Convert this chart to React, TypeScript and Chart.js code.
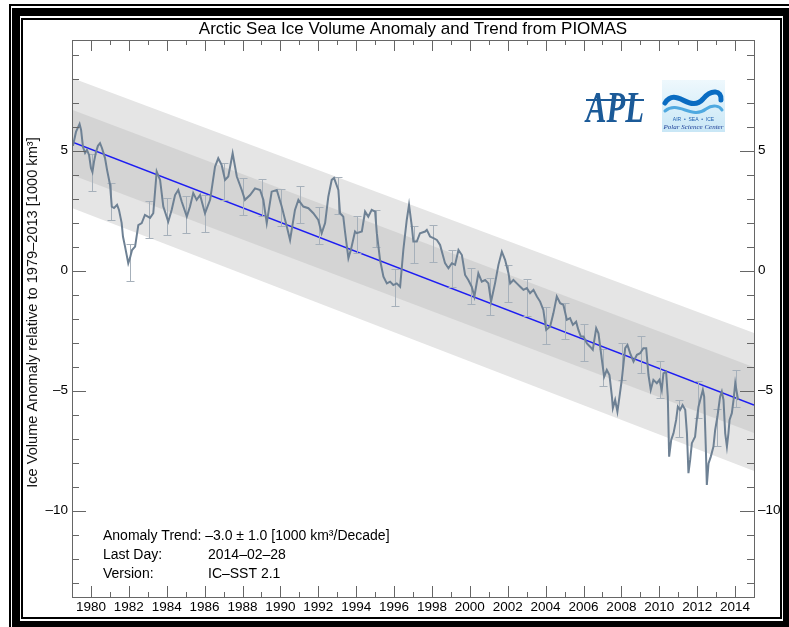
import React, { useEffect, useRef } from 'react';
import { Chart, registerables } from 'chart.js';

Chart.register(...registerables);

// ---------------- data ----------------
const titleText = 'Arctic Sea Ice Volume Anomaly and Trend from PIOMAS';
const yAxisTitle = 'Ice Volume Anomaly relative to 1979\u20132013 [1000 km\u00B3]';
const infoLabels = ['Anomaly Trend: \u20133.0 \u00B1 1.0 [1000 km\u00B3/Decade]', 'Last Day:', 'Version:'];
const infoValues = ['', '2014\u201302\u201328', 'IC\u2013SST 2.1'];

const xMin = 1979;
const xMax = 2015;
const yMin = -13.6;
const yMax = 9.61;

// anomaly series (decimal year, 1000 km^3)
const years1979 = [1979.05, 1979.21, 1979.40, 1979.48, 1979.58, 1979.69, 1979.79, 1979.90, 1980.00, 1980.08,
  1980.16, 1980.27, 1980.37, 1980.48, 1980.58, 1980.74, 1980.85, 1981.01, 1981.10, 1981.22,
  1981.38, 1981.48, 1981.62, 1981.69, 1981.80, 1981.97, 1982.06, 1982.17, 1982.33, 1982.50,
  1982.68, 1982.85, 1983.12, 1983.29, 1983.47, 1983.65, 1983.82, 1984.08, 1984.26, 1984.44,
  1984.61, 1984.79, 1985.06, 1985.23, 1985.40, 1985.58, 1985.76, 1986.02, 1986.29, 1986.55,
  1986.72, 1986.90, 1987.08, 1987.25, 1987.48, 1987.70, 1987.96];
const values1979 = [5.20, 5.78, 6.11, 5.86, 5.15, 4.90, 5.03, 4.82, 4.28, 4.11,
  4.53, 4.95, 5.20, 5.31, 5.11, 4.70, 4.20, 3.57, 2.67, 2.61,
  2.74, 2.53, 1.99, 1.42, 1.00, 0.31, 0.53, 0.86, 1.00, 1.90,
  1.98, 2.32, 2.20, 2.39, 4.13, 3.78, 2.67, 2.04, 2.53, 3.15,
  3.36, 2.88, 2.25, 2.67, 3.23, 2.95, 3.15, 2.39, 2.95, 4.33,
  4.68, 4.40, 3.78, 3.92, 4.89, 3.92, 3.36];

const years1988 = [1988.13, 1988.40, 1988.66,
  1988.93, 1989.10, 1989.28, 1989.54, 1989.81, 1990.07, 1990.34, 1990.51, 1990.77, 1990.95,
  1991.21, 1991.48, 1991.74, 1992.00, 1992.18, 1992.36, 1992.53, 1992.71, 1992.83, 1993.06,
  1993.15, 1993.32, 1993.41, 1993.59, 1993.72, 1993.94, 1994.03, 1994.30, 1994.47, 1994.64,
  1994.82, 1995.00, 1995.09, 1995.26, 1995.44, 1995.62, 1995.79, 1995.96, 1996.14, 1996.32,
  1996.49, 1996.67, 1996.79, 1996.94];
const values1988 = [2.95, 3.15, 3.43,
  3.36, 2.95, 1.98, 3.29, 3.36, 2.67, 1.83, 1.28, 2.53, 2.95,
  2.67, 2.60, 2.39, 2.11, 1.56, 1.98, 3.08, 3.78, 3.86, 3.36,
  2.39, 2.25, 1.63, 0.52, 0.86, 1.63, 1.56, 1.63, 2.46, 2.25,
  2.53, 2.46, 1.56, 0.45, -0.25, -0.53, -0.46, -0.60, -0.53, -0.67,
  0.86, 2.11, 2.74, 1.83];

const years1997 = [1997.02, 1997.20, 1997.37, 1997.64, 1997.73, 1997.90,
  1998.08, 1998.26, 1998.43, 1998.69, 1998.87, 1999.05, 1999.22, 1999.40, 1999.58, 1999.75,
  1999.92, 2000.10, 2000.24, 2000.45, 2000.63, 2000.81, 2000.98, 2001.12, 2001.33, 2001.51,
  2001.69, 2001.86, 2002.04, 2002.13, 2002.30, 2002.48, 2002.66, 2002.83, 2003.01, 2003.18,
  2003.36, 2003.54, 2003.71, 2003.88, 2004.03, 2004.24, 2004.41, 2004.59, 2004.77, 2004.94,
  2005.12, 2005.29, 2005.44, 2005.61, 2005.73, 2005.86];
const values1997 = [1.21, 1.21, 1.56, 1.63, 1.70, 1.42,
  1.35, 1.28, 1.07, 0.31, 0.10, 0.31, 0.24, 0.86, 0.65, -0.18,
  -0.39, -0.67, -1.08, -0.11, -0.46, -0.39, -0.53, -1.29, -0.53, 0.24,
  0.79, 0.45, -0.11, -0.53, -0.39, -0.53, -0.67, -0.80, -0.73, -0.94,
  -0.80, -1.08, -1.29, -1.64, -2.47, -2.33, -1.78, -1.08, -1.36, -1.43,
  -2.05, -1.98, -2.26, -2.13, -2.47, -2.75];

const years2006 = [2006.00, 2006.18, 2006.35, 2006.49, 2006.67, 2006.79, 2006.97, 2007.09, 2007.23, 2007.37,
  2007.50, 2007.55, 2007.67, 2007.79, 2007.90, 2008.02, 2008.20, 2008.32, 2008.46, 2008.64,
  2008.82, 2008.99, 2009.16, 2009.31, 2009.43, 2009.55, 2009.69, 2009.87, 2010.01, 2010.13,
  2010.22, 2010.36, 2010.45, 2010.52, 2010.63, 2010.75, 2010.89, 2010.98, 2011.10, 2011.23,
  2011.37, 2011.46, 2011.54, 2011.63, 2011.72, 2011.89, 2011.98, 2012.07, 2012.16, 2012.30,
  2012.37, 2012.46, 2012.51, 2012.60, 2012.72, 2012.86, 2012.95, 2013.07, 2013.21, 2013.30,
  2013.39, 2013.48, 2013.57, 2013.65, 2013.71, 2013.83, 2013.92, 2014.01, 2014.10, 2014.16];
const values2006 = [-2.75, -3.03, -3.17, -3.30, -2.40, -2.61, -3.72, -4.42, -4.14, -4.35,
  -5.25, -5.73, -5.39, -5.88, -5.25, -4.55, -3.23, -3.10, -3.44, -3.79,
  -3.51, -3.44, -3.23, -3.23, -4.35, -4.97, -4.55, -4.69, -4.55, -4.97,
  -4.28, -4.21, -5.25, -7.75, -7.05, -6.78, -6.22, -5.67, -5.80, -5.60,
  -5.80, -6.78, -8.44, -7.89, -7.19, -6.92, -6.22, -5.67, -5.39, -4.97,
  -5.25, -7.47, -8.93, -8.03, -7.75, -7.33, -6.64, -6.08, -5.25, -5.04,
  -5.39, -6.78, -7.33, -6.78, -6.22, -5.94, -5.39, -4.69, -5.11, -5.39];

// yearly uncertainty bars
const barYears = [1980.04, 1981.04, 1982.04, 1983.04, 1984.04, 1985.04, 1986.04, 1987.04, 1988.04, 1989.04,
  1990.04, 1991.04, 1992.04, 1993.04, 1994.04, 1995.04, 1996.04, 1997.04, 1998.04, 1999.04,
  2000.04, 2001.04, 2002.04, 2003.04, 2004.04, 2005.04, 2006.04, 2007.04, 2008.04, 2009.04,
  2010.04, 2011.04, 2012.04, 2013.04, 2014.04];
const barMid = [4.07, 2.88, 0.33, 2.14, 2.25, 2.32, 2.40, 3.70, 3.08, 3.03,
  2.63, 2.74, 1.90, 3.15, 1.49, 1.77, -0.72, 1.07, 1.14, 0.07,
  -0.64, -1.08, -0.53, -1.10, -2.30, -2.10, -3.01, -4.05, -3.80, -3.51,
  -4.55, -6.18, -5.39, -6.55, -4.93];
const barHalf = 0.77;

// trend and bands (values at the two ends of the axis)
const bandYears = [1979, 2015];
const trendVals = [5.36, -5.6];
const innerUpper = [6.70, -4.03];
const innerLower = [3.98, -6.77];
const outerUpper = [8.03, -2.6];
const outerLower = [2.61, -8.35];

// ---------------- helpers ----------------
const FONT = '"Liberation Sans", Arial, Helvetica, sans-serif';
const ANOM_INDEX = 5;

const pts = (xs: number[], ys: number[]) => xs.map((x, i) => ({ x, y: ys[i] }));
const fmtY = (v: number) => String(v).replace('-', '\u2013');

function drawLogos(ctx: CanvasRenderingContext2D) {
  // APL logo (approximation)
  ctx.save();
  ctx.fillStyle = '#1b5a98';
  ctx.font = 'italic bold 44px "Liberation Serif", serif';
  ctx.textBaseline = 'alphabetic';
  ctx.fillText('APL', 586, 122, 58);
  ctx.fillRect(586, 99, 58, 2);
  ctx.restore();

  // Polar Science Center logo (approximation)
  ctx.save();
  const g = ctx.createLinearGradient(0, 80, 0, 132);
  g.addColorStop(0, '#eef8fd');
  g.addColorStop(1, '#c9e7f6');
  ctx.fillStyle = g;
  ctx.fillRect(662, 80, 63, 52);
  ctx.lineCap = 'round';
  ctx.strokeStyle = '#0a6cc2';
  ctx.lineWidth = 5;
  ctx.beginPath();
  ctx.moveTo(665, 103);
  ctx.bezierCurveTo(676, 86, 690, 114, 703, 99);
  ctx.bezierCurveTo(711, 89, 722, 90, 721, 100);
  ctx.stroke();
  ctx.strokeStyle = '#4fa9e0';
  ctx.lineWidth = 3;
  ctx.beginPath();
  ctx.moveTo(665, 111);
  ctx.bezierCurveTo(678, 100, 692, 120, 706, 109);
  ctx.bezierCurveTo(713, 104, 720, 106, 722, 110);
  ctx.stroke();
  ctx.fillStyle = '#1f5fb0';
  ctx.textAlign = 'center';
  ctx.font = `5px ${FONT}`;
  ctx.fillText('AIR  \u2022  SEA  \u2022  ICE', 693.5, 121);
  ctx.fillStyle = '#1b3d96';
  ctx.font = 'italic 7px "Liberation Serif", serif';
  ctx.fillText('Polar Science Center', 693.5, 129, 61);
  ctx.restore();
}

function drawFrame(ctx: CanvasRenderingContext2D) {
  ctx.save();
  ctx.fillStyle = '#000';
  // outer thin line
  ctx.fillRect(9, 4, 2, 623);
  ctx.fillRect(9, 4, 780, 2);
  // thick band
  ctx.fillRect(12, 8, 777, 8);
  ctx.fillRect(12, 8, 8, 619);
  ctx.fillRect(783, 8, 6, 619);
  ctx.fillRect(12, 621, 777, 6);
  // inner thin line
  ctx.fillRect(21, 18, 761, 2);
  ctx.fillRect(21, 18, 2, 601);
  ctx.fillRect(780, 18, 2, 601);
  ctx.fillRect(21, 617, 761, 2);
  ctx.restore();
}

const chromePlugin = {
  id: 'chrome',
  beforeDraw(chart: any) {
    const ctx = chart.ctx as CanvasRenderingContext2D;
    ctx.save();
    ctx.fillStyle = '#ffffff';
    ctx.fillRect(0, 0, chart.width, chart.height);
    ctx.restore();
  },
  beforeDatasetDraw(chart: any, args: any) {
    if (args.index !== ANOM_INDEX) return;
    const ctx = chart.ctx as CanvasRenderingContext2D;
    const xs = chart.scales.x;
    const ys = chart.scales.y;
    const a = chart.chartArea;
    ctx.save();
    ctx.beginPath();
    ctx.rect(a.left, a.top, a.right - a.left, a.bottom - a.top);
    ctx.clip();
    ctx.strokeStyle = '#a6b0ba';
    ctx.lineWidth = 1;
    ctx.beginPath();
    barYears.forEach((yr, i) => {
      const px = Math.round(xs.getPixelForValue(yr)) + 0.5;
      const hi = Math.round(ys.getPixelForValue(barMid[i] + barHalf)) + 0.5;
      const lo = Math.round(ys.getPixelForValue(barMid[i] - barHalf)) + 0.5;
      ctx.moveTo(px, hi); ctx.lineTo(px, lo);
      ctx.moveTo(px - 4, hi); ctx.lineTo(px + 4, hi);
      ctx.moveTo(px - 4, lo); ctx.lineTo(px + 4, lo);
    });
    ctx.stroke();
    ctx.restore();
  },
  afterDraw(chart: any) {
    const ctx = chart.ctx as CanvasRenderingContext2D;
    const a = chart.chartArea;
    const xs = chart.scales.x;
    const ys = chart.scales.y;
    ctx.save();
    // axis box
    ctx.strokeStyle = '#666666';
    ctx.lineWidth = 1;
    ctx.strokeRect(a.left + 0.5, a.top + 0.5, a.right - a.left, a.bottom - a.top);
    ctx.beginPath();
    xs.ticks.forEach((t: any) => {
      const px = Math.round(xs.getPixelForValue(t.value)) + 0.5;
      const len = t.value % 2 === 0 ? 11 : 5;
      ctx.moveTo(px, a.bottom); ctx.lineTo(px, a.bottom - len);
      ctx.moveTo(px, a.top); ctx.lineTo(px, a.top + len);
    });
    ys.ticks.forEach((t: any) => {
      const py = Math.round(ys.getPixelForValue(t.value)) + 0.5;
      const len = t.value % 5 === 0 ? 14 : 7;
      ctx.moveTo(a.left, py); ctx.lineTo(a.left + len, py);
      ctx.moveTo(a.right, py); ctx.lineTo(a.right - len, py);
    });
    ctx.stroke();

    // title
    ctx.fillStyle = '#000';
    ctx.font = `17px ${FONT}`;
    ctx.textAlign = 'center';
    ctx.textBaseline = 'alphabetic';
    ctx.fillText(titleText, (a.left + a.right) / 2, 34);

    // y axis title
    ctx.save();
    ctx.translate(36.5, 312.5);
    ctx.rotate(-Math.PI / 2);
    ctx.font = `14.6px ${FONT}`;
    ctx.fillStyle = '#111';
    ctx.fillText(yAxisTitle, 0, 0);
    ctx.restore();

    // info text
    ctx.font = `14px ${FONT}`;
    ctx.textAlign = 'left';
    ctx.fillStyle = '#000';
    const baselines = [540, 558.5, 577.5];
    infoLabels.forEach((lab, i) => {
      ctx.fillText(lab, 103, baselines[i]);
      if (infoValues[i]) ctx.fillText(infoValues[i], 208, baselines[i]);
    });
    ctx.restore();

    drawLogos(ctx);
    drawFrame(ctx);
  },
};

export default function App() {
  const ref = useRef<HTMLCanvasElement | null>(null);

  useEffect(() => {
    const canvas = ref.current;
    if (!canvas) return;
    const anomaly = [
      ...pts(years1979, values1979),
      ...pts(years1988, values1988),
      ...pts(years1997, values1997),
      ...pts(years2006, values2006),
    ];
    const tickFont = { family: FONT, size: 13.5 };
    const hiddenLine = { borderWidth: 0, borderColor: 'rgba(0,0,0,0)', pointRadius: 0, tension: 0 };
    const chart = new Chart(canvas, {
      type: 'line',
      data: {
        datasets: [
          { ...hiddenLine, label: 'outer upper', data: pts(bandYears, outerUpper), fill: '+1', backgroundColor: '#e5e5e5', order: 5 },
          { ...hiddenLine, label: 'outer lower', data: pts(bandYears, outerLower), fill: false, order: 5 },
          { ...hiddenLine, label: 'inner upper', data: pts(bandYears, innerUpper), fill: '+1', backgroundColor: '#d4d4d4', order: 4 },
          { ...hiddenLine, label: 'inner lower', data: pts(bandYears, innerLower), fill: false, order: 4 },
          { label: 'trend', data: pts(bandYears, trendVals), borderColor: '#1d1df2', borderWidth: 1.5, pointRadius: 0, fill: false, order: 2 },
          { label: 'anomaly', data: anomaly, borderColor: '#6e8194', borderWidth: 2, pointRadius: 0, tension: 0, fill: false, order: 0 },
        ] as any,
      },
      options: {
        responsive: false,
        animation: false,
        events: [],
        layout: { padding: { top: 40, left: 0, right: 0, bottom: 0 } },
        plugins: { legend: { display: false }, title: { display: false }, tooltip: { enabled: false } },
        scales: {
          x: {
            type: 'linear', position: 'bottom', min: xMin, max: xMax,
            grid: { display: false, drawTicks: false }, border: { display: false },
            ticks: {
              stepSize: 1, autoSkip: false, maxRotation: 0, minRotation: 0, padding: 2,
              color: '#000', font: tickFont,
              callback: (v: any) => (Number(v) % 2 === 0 ? String(v) : ''),
            },
            afterFit: (s: any) => { s.height = 30; },
          },
          y: {
            type: 'linear', position: 'left', min: yMin, max: yMax,
            grid: { display: false, drawTicks: false }, border: { display: false },
            ticks: {
              stepSize: 1, includeBounds: false, autoSkip: false, padding: 4, color: '#000', font: tickFont,
              callback: (v: any) => (Number(v) % 5 === 0 ? fmtY(Number(v)) : ''),
            },
            afterFit: (s: any) => { s.width = 72; },
          },
          y2: {
            type: 'linear', position: 'right', min: yMin, max: yMax,
            grid: { display: false, drawTicks: false }, border: { display: false },
            ticks: {
              stepSize: 1, includeBounds: false, autoSkip: false, padding: 4, color: '#000', font: tickFont,
              callback: (v: any) => (Number(v) % 5 === 0 ? fmtY(Number(v)) : ''),
            },
            afterFit: (s: any) => { s.width = 35; },
          },
        },
      } as any,
      plugins: [chromePlugin as any],
    });
    return () => chart.destroy();
  }, []);

  return (
    <div style={{ position: 'fixed', left: 0, top: 0, width: 789, height: 627, background: '#fff' }}>
      <canvas ref={ref} width={789} height={627} style={{ width: 789, height: 627, display: 'block' }} />
    </div>
  );
}
